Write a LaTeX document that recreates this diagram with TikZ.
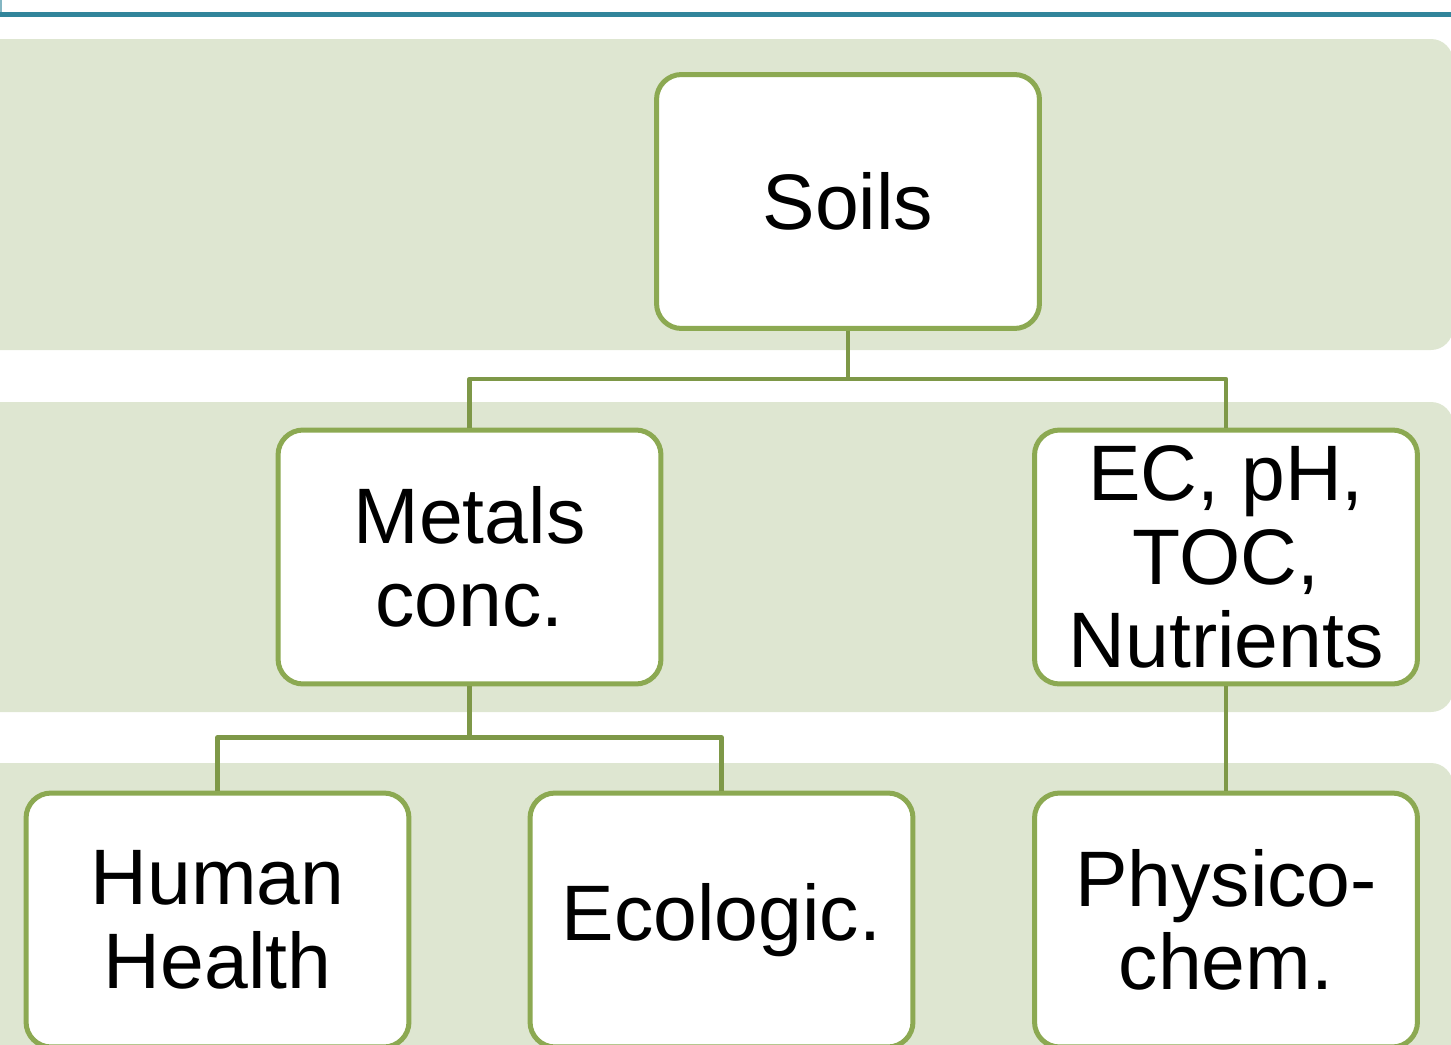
\documentclass[tikz,border=0pt]{standalone}
\usepackage{fontspec}
\setmainfont{Liberation Sans}
\usetikzlibrary{positioning}

\definecolor{bandgreen}{RGB}{222,230,209}
\definecolor{boxgreen}{RGB}{140,169,82}
\definecolor{linkgreen}{RGB}{126,152,72}
\definecolor{frameteal}{RGB}{49,133,155}

\tikzset{
  level/.style={fill=bandgreen, rounded corners=0.44cm},
  item/.style={draw=boxgreen, line width=0.1cm, fill=white, rounded corners=0.5cm,
    minimum width=7.66cm, minimum height=5.08cm, align=center, inner sep=0pt,
    font=\fontsize{44.8}{47.5}\selectfont},
  link/.style={draw=linkgreen, line width=0.09cm, line join=round}
}

\begin{document}
\begin{tikzpicture}[x=0.02cm, y=-0.02cm]
    \useasboundingbox (0,0) rectangle (1451,1045);
    \clip (0,0) rectangle (1451,1045);

    % frame edge
    \draw[frameteal!60, line width=0.04cm] (1,-10) -- (1,13);
    \draw[frameteal, line width=0.1cm] (-10,14) -- (1461,14);

    % level bands
    \fill[level] (-40,39) rectangle (1453,350);
    \fill[level] (-40,402) rectangle (1453,712);
    \fill[level] (-40,763) rectangle (1453,1120);

    % boxes
    \node[item] (soils)   at (848,201.5)  {Soils};
    \node[item] (metals)  at (469.5,557)  {Metals\\conc.};
    \node[item] (ecbox)   at (1226,557)   {EC, pH,\\TOC,\\Nutrients};
    \node[item] (human)   at (217.5,920)  {Human\\Health};
    \node[item] (ecol)    at (721.5,920)  {Ecologic.};
    \node[item] (physico) at (1226,920)   {Physico-\\chem.};

    % connectors
    \draw[link] (soils.south) -- ++(0,48) -| (metals.north);
    \draw[link] (soils.south) -- ++(0,48) -| (ecbox.north);
    \draw[link] (metals.south) -- ++(0,51) -| (human.north);
    \draw[link] (metals.south) -- ++(0,51) -| (ecol.north);
    \draw[link] (ecbox.south) -- (physico.north);
\end{tikzpicture}
\end{document}
